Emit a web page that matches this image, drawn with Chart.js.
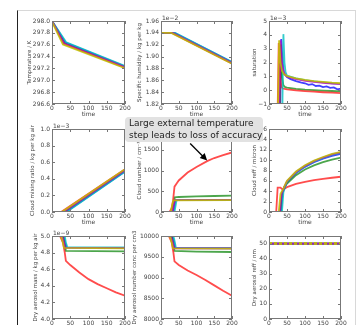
<!DOCTYPE html>
<html><head><meta charset="utf-8">
<script src="https://cdn.jsdelivr.net/npm/chart.js@4/dist/chart.umd.min.js"></script>
<style>
html,body{margin:0;padding:0;width:363px;height:325px;overflow:hidden;background:#fff;}
canvas{position:absolute;left:0;top:0;}
#frame{position:absolute;left:17px;top:10px;width:337px;height:330px;border-top:1px solid #d8d8d8;border-right:1px solid #d8d8d8;border-left:1px solid #222;}
#note{position:absolute;left:125px;top:117px;width:138px;height:25px;background:#e2e2e2;border-radius:4px;font-family:'DejaVu Sans';font-size:9px;color:#222;line-height:12px;padding:0 0 0 4px;box-sizing:border-box;z-index:10;white-space:nowrap;}
</style></head><body>
<div id="frame"></div>
<div id="note">Large external temperature<br>step leads to loss of accuracy</div>
<script>
// series order: b, g, r, c, m, y
const seriesColors = ['rgba(0,0,255,0.75)','rgba(0,128,0,0.7)','rgba(255,0,0,0.7)','rgba(0,191,191,0.8)','rgba(191,0,191,0.8)','rgba(191,191,0,0.85)'];
const timeTicks = [0, 50, 100, 150, 200];

const temperature = [
 [[0,298.0],[37,297.635],[200,297.235]],
 [[0,298.0],[34,297.625],[200,297.225]],
 [[0,298.0],[32,297.615],[200,297.215]],
 [[0,298.0],[39,297.64],[200,297.24]],
 [[0,298.0],[33,297.62],[200,297.22]],
 [[0,297.99],[30,297.605],[200,297.205]]
];
const humidity = [
 [[0,1.94],[38,1.94],[200,1.8905]],
 [[0,1.94],[34,1.94],[200,1.8895]],
 [[0,1.94],[31,1.94],[200,1.8885]],
 [[0,1.94],[40,1.94],[200,1.891]],
 [[0,1.94],[33,1.94],[200,1.889]],
 [[0,1.94],[29,1.94],[200,1.888]]
];
const saturation = [
 [[0,-20],[31,-1.5],[34,3.7],[38,1.9],[42,1.2],[50,0.95],[60,0.8],[75,0.65],[90,0.55],[100,0.5],[110,0.38],[120,0.44],[130,0.3],[140,0.33],[150,0.22],[160,0.27],[170,0.17],[180,0.2],[190,0.06],[200,0.12]],
 [[0,-20],[30,-1.5],[33,3.3],[36,1.0],[40,0.35],[45,0.22],[50,0.18],[75,0.1],[100,0.04],[125,0.0],[150,-0.03],[175,-0.06],[200,-0.09]],
 [[0,-20],[24,-1.5],[27,3.4],[30,1.2],[34,0.3],[38,0.12],[50,0.05],[75,-0.02],[100,-0.07],[125,-0.11],[150,-0.15],[175,-0.18],[200,-0.21]],
 [[0,-20],[37,-1.5],[40,4.05],[43,2.0],[46,1.3],[50,1.05],[75,0.85],[100,0.72],[125,0.64],[150,0.57],[175,0.5],[200,0.46]],
 [[0,-20],[29,-1.5],[32,3.6],[36,2.0],[40,1.35],[45,1.1],[50,0.98],[75,0.8],[100,0.68],[125,0.6],[150,0.53],[175,0.47],[200,0.43]],
 [[0,-20],[25,-1.5],[28,3.6],[32,2.0],[36,1.4],[42,1.15],[50,1.02],[75,0.85],[100,0.74],[125,0.66],[150,0.6],[175,0.54],[200,0.5]]
];
const cloudMix = [
 [[0,0],[38,0],[200,0.49]],
 [[0,0],[34,0],[200,0.50]],
 [[0,0],[25,0],[200,0.515]],
 [[0,0],[40,0],[200,0.485]],
 [[0,0],[32,0],[200,0.505]],
 [[0,0],[27,0],[200,0.515]]
];
const cloudNumber = [
 [[0,0],[35,0],[38,150],[41,285],[200,290]],
 [[0,0],[31,0],[35,180],[39,355],[50,362],[100,375],[150,386],[200,395]],
 [[0,0],[24,0],[30,90],[34,280],[38,610],[45,700],[50,760],[75,950],[100,1085],[130,1225],[150,1300],[175,1370],[200,1435]],
 [[0,0],[38,0],[41,150],[44,285],[200,288]],
 [[0,0],[32,0],[35,150],[39,285],[200,290]],
 [[0,0],[28,0],[31,150],[35,280],[200,285]]
];
const cloudReff = [
 [[0,0],[33,0],[38,3.8],[45,4.9],[50,5.7],[75,7.5],[100,8.7],[125,9.6],[150,10.3],[175,10.8],[200,11.2]],
 [[0,0],[32,0],[36,3.6],[42,4.8],[50,5.5],[75,7.1],[100,8.2],[125,9.0],[150,9.6],[175,10.1],[200,10.5]],
 [[0,0],[20,0],[24,4.7],[32,4.7],[38,4.3],[45,4.6],[50,4.8],[75,5.4],[100,5.8],[125,6.15],[150,6.4],[175,6.6],[200,6.8]],
 [[0,0],[36,0],[40,3.8],[45,4.9],[50,5.8],[75,7.6],[100,8.8],[125,9.7],[150,10.4],[175,11.0],[200,11.4]],
 [[0,0],[30,0],[35,3.5],[42,4.8],[50,5.9],[75,7.7],[100,8.9],[125,9.8],[150,10.5],[175,11.1],[200,11.5]],
 [[0,0],[27,0],[32,3.5],[40,4.5],[45,5.3],[50,6.0],[75,7.8],[100,9.0],[125,9.9],[150,10.6],[175,11.2],[200,11.6]]
];
const aeroMass = [
 [[0,5.0],[32,5.0],[36,4.92],[40,4.86],[200,4.858]],
 [[0,5.0],[30,5.0],[35,4.9],[38,4.82],[200,4.815]],
 [[0,5.0],[22,5.0],[30,4.92],[35,4.80],[38,4.70],[50,4.65],[75,4.56],[100,4.48],[125,4.42],[150,4.37],[175,4.32],[200,4.28]],
 [[0,5.0],[35,5.0],[38,4.92],[42,4.866],[200,4.862]],
 [[0,5.0],[28,5.0],[33,4.92],[36,4.86],[200,4.855]],
 [[0,5.0],[25,5.0],[30,4.92],[33,4.856],[200,4.852]]
];
const aeroNumber = [
 [[0,10000],[32,10000],[37,9850],[40,9710],[200,9705]],
 [[0,10000],[30,10000],[35,9800],[38,9640],[100,9625],[200,9615]],
 [[0,10000],[22,10000],[30,9850],[35,9600],[38,9390],[50,9300],[75,9170],[100,9060],[125,8940],[150,8810],[175,8680],[200,8560]],
 [[0,10000],[35,10000],[39,9850],[42,9715],[200,9710]],
 [[0,10000],[28,10000],[33,9850],[37,9705],[200,9700]],
 [[0,10000],[25,10000],[30,9850],[34,9700],[200,9695]]
];
const aeroReff = [
 [[0,50],[200,50]],
 [[0,50],[200,50]],
 [[0,50],[200,50]],
 [[0,50],[200,50]],
 [[0,50],[200,50]],
 [[0,50],[200,50]]
];
const annotationPoint = [130, 1240];

const panels = [
 {data:temperature,row:0,col:0,min:296.6,max:298.0,step:0.2,dec:1,ytitle:'Temperature / K',tx:30,exp:''},
 {data:humidity,row:0,col:1,min:1.82,max:1.96,step:0.02,dec:2,ytitle:'Specific humidity / kg per kg',tx:140,exp:'1e\u22122'},
 {data:saturation,row:0,col:2,min:-1,max:5,step:1,dec:0,ytitle:'saturation',tx:255,exp:'1e\u22123'},
 {data:cloudMix,row:1,col:0,min:0,max:1,step:0.2,dec:1,ytitle:'Cloud mixing ratio / kg per kg air',tx:33,exp:'1e\u22123'},
 {data:cloudNumber,row:1,col:1,min:0,max:2000,step:500,dec:0,ytitle:'Cloud number / cm\u207B\u00B3',tx:140,exp:'',arrow:annotationPoint},
 {data:cloudReff,row:1,col:2,min:0,max:16,step:2,dec:0,ytitle:'Cloud reff / micron',tx:255,exp:''},
 {data:aeroMass,row:2,col:0,min:4.0,max:5.0,step:0.2,dec:1,ytitle:'Dry aerosol mass / kg per kg air',tx:36,exp:'1e\u22129'},
 {data:aeroNumber,row:2,col:1,min:8000,max:10000,step:500,dec:0,ytitle:'Dry aerosol number conc per cm3',tx:135,exp:''},
 {data:aeroReff,row:2,col:2,min:0,max:55,step:10,dec:0,ytitle:'Dry aerosol reff / nm',tx:255,exp:'',dashLast:true}
];

const colL=[52,161,269], colR=[125,232,341], rowT=[21,129,236], rowB=[104,212,319];
const CW=363, CH=340, XH=14, TFS=5.5;
const FONT='DejaVu Sans';
const TXT='#444';

panels.forEach((p) => {
  const cv = document.createElement('canvas');
  cv.width = CW; cv.height = CH;
  document.body.appendChild(cv);
  const L=colL[p.col], R=colR[p.col], T=rowT[p.row], B=rowB[p.row];
  const W = L - p.tx + TFS*1.2/2;
  const n = p.data.length;
  const datasets = p.data.map((pts, k) => ({
    data: pts.map(([x,y]) => ({x, y})),
    order: n - 1 - k,
    borderColor: seriesColors[k],
    borderWidth: (p.dashLast && k===5) ? 3 : 1.8,
    borderDash: (p.dashLast && k===5) ? [3,2] : [],
    pointRadius: 0, fill: false, tension: 0
  }));
  const plug = {
    id: 'frame',
    afterDraw(chart) {
      const {ctx, chartArea:{left,right,top,bottom}} = chart;
      const xs = chart.scales.x, ys = chart.scales.y;
      ctx.save();
      ctx.strokeStyle = '#777'; ctx.lineWidth = 1;
      ctx.strokeRect(left+0.5, top+0.5, right-left-1, bottom-top-1);
      ctx.beginPath();
      xs.ticks.forEach(t => {
        const px = Math.round(xs.getPixelForValue(t.value)) + 0.5;
        ctx.moveTo(px, bottom); ctx.lineTo(px, bottom-3);
        ctx.moveTo(px, top); ctx.lineTo(px, top+3);
      });
      ys.ticks.forEach(t => {
        const py = Math.round(ys.getPixelForValue(t.value)) + 0.5;
        ctx.moveTo(left, py); ctx.lineTo(left+3, py);
        ctx.moveTo(right, py); ctx.lineTo(right-3, py);
      });
      ctx.stroke();
      if (p.exp) {
        ctx.fillStyle = TXT; ctx.font = '6px "' + FONT + '"';
        ctx.textAlign = 'left'; ctx.textBaseline = 'bottom';
        ctx.fillText(p.exp, left+1, top);
      }
      if (p.arrow) {
        const tx = xs.getPixelForValue(p.arrow[0]), ty = ys.getPixelForValue(p.arrow[1]);
        const sx = tx - 17, sy = ty - 17;
        const ang = Math.atan2(ty-sy, tx-sx), hl = 7, hw = 3.5;
        ctx.strokeStyle = '#000'; ctx.fillStyle = '#000'; ctx.lineWidth = 1.3;
        ctx.beginPath(); ctx.moveTo(sx, sy); ctx.lineTo(tx - 5*Math.cos(ang), ty - 5*Math.sin(ang)); ctx.stroke();
        ctx.beginPath();
        ctx.moveTo(tx, ty);
        ctx.lineTo(tx - hl*Math.cos(ang) + hw*Math.sin(ang), ty - hl*Math.sin(ang) - hw*Math.cos(ang));
        ctx.lineTo(tx - hl*Math.cos(ang) - hw*Math.sin(ang), ty - hl*Math.sin(ang) + hw*Math.cos(ang));
        ctx.closePath(); ctx.fill();
      }
      ctx.restore();
    }
  };
  new Chart(cv, {
    type: 'line',
    data: { datasets },
    options: {
      responsive: false, animation: false, devicePixelRatio: 1, events: [],
      layout: { padding: { left: L - W, top: T, right: CW - R, bottom: CH - B - XH } },
      plugins: { legend: { display: false }, tooltip: { enabled: false } },
      scales: {
        x: {
          type: 'linear', min: 0, max: 200,
          afterBuildTicks: (s) => { s.ticks = timeTicks.map(v => ({value: v})); },
          ticks: { padding: 1, font: { family: FONT, size: 6 }, color: TXT, maxRotation: 0, autoSkip: false },
          grid: { display: false, drawTicks: false }, border: { display: false },
          title: { display: true, text: 'time', font: { family: FONT, size: 6 }, color: TXT, padding: 0 },
          afterFit: (s) => { s.height = XH; s.paddingLeft = 0; s.paddingRight = 0; s.paddingTop = 0; s.paddingBottom = 0; }
        },
        y: {
          type: 'linear', min: p.min, max: p.max,
          ticks: { stepSize: p.step, includeBounds: false, padding: 2, font: { family: FONT, size: 6 }, color: TXT,
                   callback: (v) => Number(v).toFixed(p.dec).replace('-', '\u2212') },
          grid: { display: false, drawTicks: false }, border: { display: false },
          title: { display: true, text: p.ytitle, font: { family: FONT, size: TFS }, color: TXT, padding: 0 },
          afterFit: (s) => { s.width = W; s.paddingLeft = 0; s.paddingRight = 0; s.paddingTop = 0; s.paddingBottom = 0; }
        }
      }
    },
    plugins: [plug]
  });
});
</script>
</body></html>
